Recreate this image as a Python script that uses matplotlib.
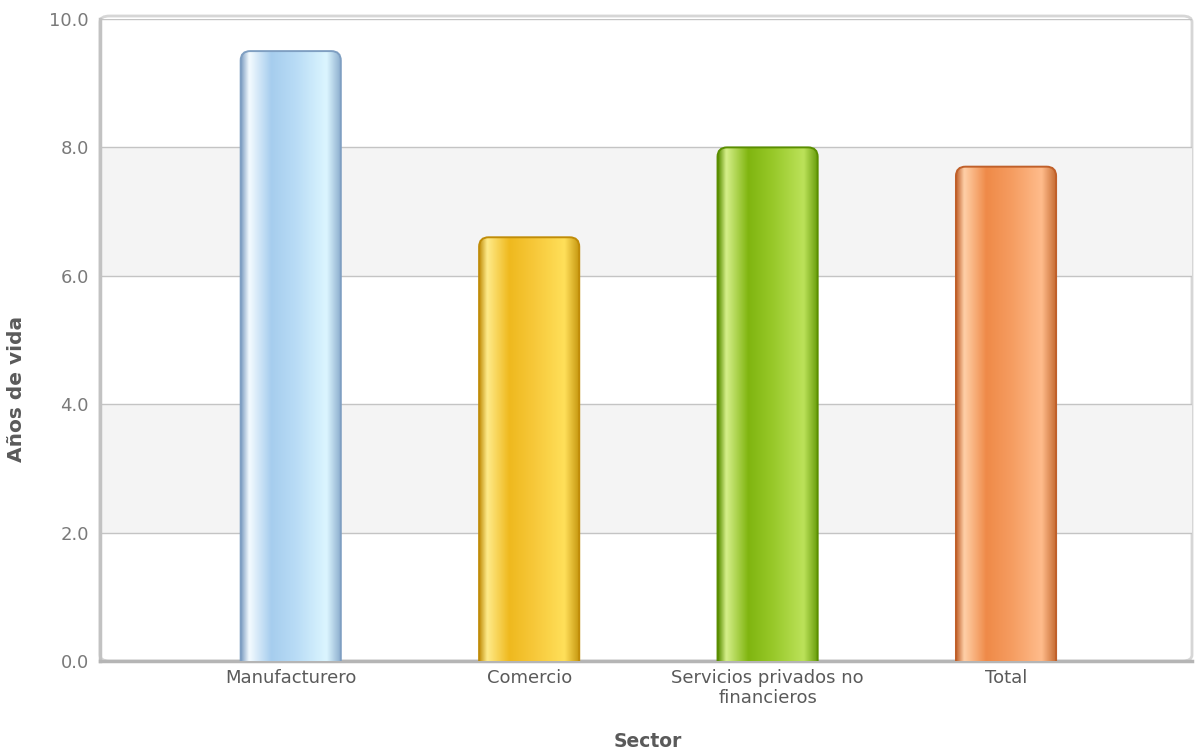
import matplotlib
matplotlib.use("Agg")
import matplotlib.pyplot as plt
import numpy as np
from matplotlib.colors import LinearSegmentedColormap
from matplotlib.patches import FancyBboxPatch

# data
sectors = ["Manufacturero", "Comercio", "Servicios privados no\nfinancieros", "Total"]
years = [9.5, 6.6, 8.0, 7.7]
y_ticks = [0, 2, 4, 6, 8, 10]
bands = [(2, 4), (6, 8)]

# horizontal gradient stops per bar (edge, highlight, body, light side, edge)
bar_grads = [
    ["#7f9fc2", "#f4fbff", "#a6cdee", "#b9dcf6", "#dcf6ff", "#86a8ca"],
    ["#c08c08", "#ffeb8a", "#efb91e", "#f7c83a", "#ffe05a", "#c4940c"],
    ["#5a8e00", "#d6f08a", "#80b510", "#98c92a", "#bce25a", "#629806"],
    ["#c0602a", "#ffd0a8", "#ef8a48", "#f59c60", "#ffbc8c", "#c4682e"],
]

W, H = 1201, 753
fig = plt.figure(figsize=(W / 100, H / 100), dpi=100)
ax = fig.add_axes([100 / W, 92 / H, 1092 / W, 642 / H])
ax.patch.set_alpha(0)

# rounded frame around the plot area (drawn behind the axes)
frame = FancyBboxPatch((100 / W, 92 / H), 1092 / W, 645 / H,
                       boxstyle="round,pad=0,rounding_size=0.008",
                       transform=fig.transFigure, facecolor="white",
                       edgecolor="#d6d6d6", linewidth=2, zorder=-1)
fig.patches.append(frame)

xpos = np.arange(len(sectors))
xlim = (-0.8, 3.78)

for lo, hi in bands:
    ax.fill_between(xlim, lo, hi, color="#f4f4f4", linewidth=0, zorder=0)
ax.set_yticks(y_ticks)
ax.set_yticklabels([f"{v:.1f}" for v in y_ticks])
ax.grid(axis="y", color="#c4c4c4", linewidth=1.0, zorder=1)
ax.set_axisbelow(True)

bars = ax.bar(xpos, years, width=0.42, color="none", edgecolor="none", zorder=2)

grad = np.linspace(0, 1, 256).reshape(1, -1)
for bar, stops in zip(bars, bar_grads):
    x0, w, h = bar.get_x(), bar.get_width(), bar.get_height()
    cmap = LinearSegmentedColormap.from_list(
        "g", list(zip([0, 0.08, 0.3, 0.55, 0.85, 1.0], stops)))
    outline = FancyBboxPatch((x0, -0.5), w, h + 0.5,
                             boxstyle="round,pad=0,rounding_size=0.04",
                             mutation_aspect=3.7,
                             facecolor="none", edgecolor=stops[0],
                             linewidth=1.4, zorder=4)
    ax.add_patch(outline)
    img = ax.imshow(grad, extent=[x0, x0 + w, 0, h], aspect="auto",
                    cmap=cmap, zorder=3, interpolation="bicubic")
    img.set_clip_path(outline)

ax.set_xlim(*xlim)
ax.set_ylim(0, 10)

ax.set_xticks(xpos)
ax.set_xticklabels(sectors, fontsize=13, color="#5a5a5a", linespacing=1.15)
ax.tick_params(axis="both", length=0)
ax.tick_params(axis="y", labelsize=13, labelcolor="#7a7a7a", pad=8)
ax.tick_params(axis="x", pad=6)

for side in ["top", "right"]:
    ax.spines[side].set_visible(False)
ax.spines["left"].set_color("#c2c2c2")
ax.spines["left"].set_linewidth(2.5)
ax.spines["bottom"].set_color("#b5b5b5")
ax.spines["bottom"].set_linewidth(2.5)

ax.set_ylabel("Años de vida", fontsize=14.5, fontweight="bold", color="#5a5a5a")
ax.yaxis.set_label_coords(-0.068, 0.424)
ax.set_xlabel("Sector", fontsize=13.5, fontweight="bold", color="#5a5a5a")
ax.xaxis.set_label_coords(0.502, -0.11)

fig.savefig("out.png", dpi=100, facecolor="white")
